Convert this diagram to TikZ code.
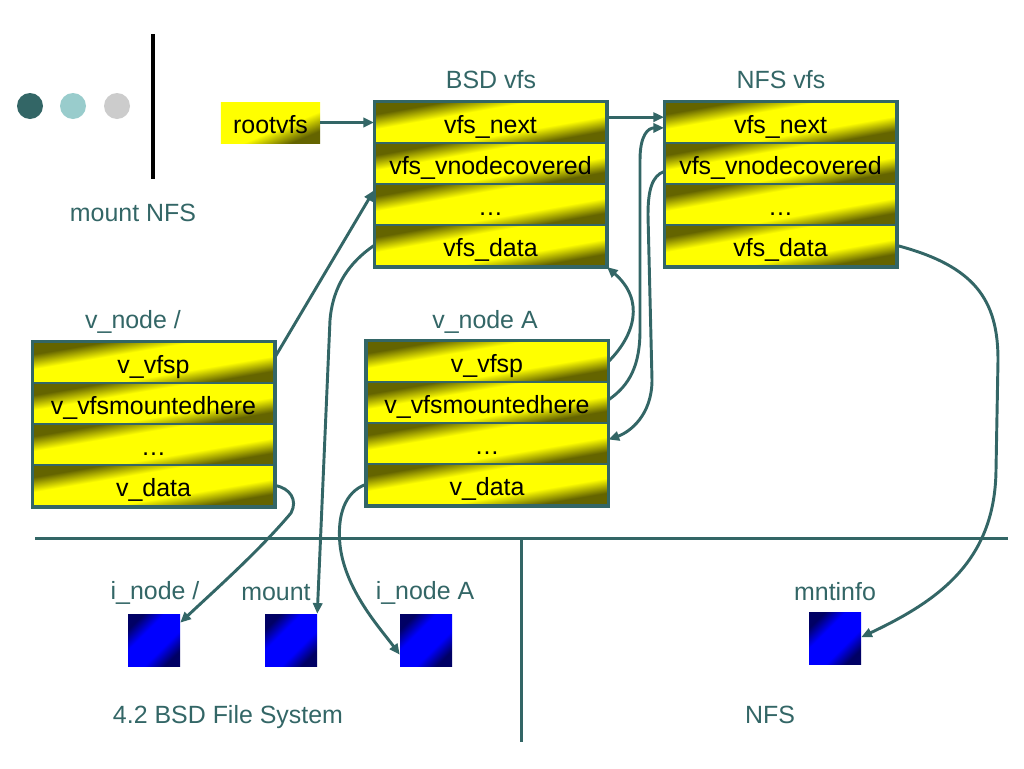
\documentclass[tikz,border=0pt]{standalone}
\usepackage{fontspec}
\setmainfont{Liberation Sans}
\usetikzlibrary{arrows.meta}
\definecolor{tl}{RGB}{51,102,102}
\definecolor{olv}{RGB}{100,100,0}
\definecolor{ylw}{RGB}{255,255,0}
\definecolor{nvy}{RGB}{0,0,100}
\definecolor{blu}{RGB}{0,0,255}
\definecolor{ltl}{RGB}{153,204,204}
\definecolor{gry}{RGB}{204,204,204}
\pgfdeclareverticalshading{fieldsh}{100bp}{color(0bp)=(olv); color(25bp)=(olv); color(38bp)=(ylw); color(62bp)=(ylw); color(75bp)=(olv); color(100bp)=(olv)}
\pgfdeclareverticalshading{rootsh}{100bp}{color(0bp)=(olv); color(25bp)=(olv); color(42bp)=(ylw); color(100bp)=(ylw)}
\pgfdeclareverticalshading{sqsh}{100bp}{color(0bp)=(nvy); color(25bp)=(nvy); color(39bp)=(blu); color(61bp)=(blu); color(75bp)=(nvy); color(100bp)=(nvy)}
\newcommand{\fsz}{\fontsize{18.7}{22}\selectfont}
% shaded background: centre x, centre y, x-stretch, half height, shading
\newcommand{\shbox}[5]{\begin{scope}[transform canvas={shift={(#1,#2)},xscale=#3}]\shade[shading=#5, shading angle=45] (-#4,-#4) rectangle (#4,#4);\end{scope}}
\begin{document}
\begin{tikzpicture}[x=0.75pt,y=-0.75pt,
 field/.style={draw=tl, line width=1.5pt, minimum height=30.75pt, inner sep=0pt, text height=16pt, text depth=0.2pt, font=\fsz, text=black},
 bsdw/.style={field, minimum width=173.25pt},
 vnw/.style={field, minimum width=180.75pt},
 boxframe/.style={draw=tl, line width=2.25pt},
 lbl/.style={font=\fsz, text=tl, inner sep=0pt},
 sq/.style={minimum width=39pt, minimum height=39pt, inner sep=0pt},
 arr/.style={draw=tl, line width=2.2pt, -{Triangle[length=8pt,width=7pt]}},
 sepline/.style={draw=tl, line width=2.25pt}]
\useasboundingbox (0,0) rectangle (1024,768);

% decorations
\fill[tl] (30,106) circle[radius=13];
\fill[ltl] (73,106) circle[radius=13];
\fill[gry] (117,106) circle[radius=13];
\draw[black, line width=3pt] (153,34) -- (153,179);
\node[lbl] (title) at (133,213) {mount NFS};

% shaded backgrounds
\shbox{270.5}{122.5}{2.415}{20.5}{rootsh}
\foreach \y in {122.5,163.5,204.5,245.5} {
  \shbox{490.5}{\y}{5.634}{20.5}{fieldsh}
  \shbox{780.5}{\y}{5.634}{20.5}{fieldsh}
}
\foreach \y in {362.5,403.5,444.5,485.5} {\shbox{153.5}{\y}{5.878}{20.5}{fieldsh}}
\foreach \y in {361.5,402.5,443.5,484.5} {\shbox{487}{\y}{5.878}{20.5}{fieldsh}}
\shbox{154}{640}{1}{26}{sqsh}
\shbox{291}{640}{1}{26}{sqsh}
\shbox{426}{640}{1}{26}{sqsh}
\shbox{835}{638.5}{1}{26}{sqsh}

% rootvfs
\node[font=\fsz, text=black, inner sep=0pt, minimum width=74.25pt, minimum height=30.75pt, text height=16pt, text depth=0.2pt] (root) at (270.5,122.5) {rootvfs};

% BSD vfs
\node[lbl] (bsdt) at (491,80) {BSD vfs};
\node[bsdw] (b1) at (490.5,122.5) {vfs\_next};
\node[bsdw] (b2) at (490.5,163.5) {vfs\_vnodecovered};
\node[bsdw] (b3) at (490.5,204.5) {…};
\node[bsdw] (b4) at (490.5,245.5) {vfs\_data};
\draw[boxframe] (b1.north west) rectangle (b4.south east);

% NFS vfs
\node[lbl] (nfst) at (781,80) {NFS vfs};
\node[bsdw] (n1) at (780.5,122.5) {vfs\_next};
\node[bsdw] (n2) at (780.5,163.5) {vfs\_vnodecovered};
\node[bsdw] (n3) at (780.5,204.5) {…};
\node[bsdw] (n4) at (780.5,245.5) {vfs\_data};
\draw[boxframe] (n1.north west) rectangle (n4.south east);

% v_node /
\node[lbl] (vt) at (133,322) {v\_node /};
\node[vnw] (v1) at (153.5,362.5) {v\_vfsp};
\node[vnw] (v2) at (153.5,403.5) {v\_vfsmountedhere};
\node[vnw] (v3) at (153.5,444.5) {…};
\node[vnw] (v4) at (153.5,485.5) {v\_data};
\draw[boxframe] (v1.north west) rectangle (v4.south east);

% v_node A
\node[lbl] (at) at (485,322) {v\_node A};
\node[vnw] (a1) at (487,361.5) {v\_vfsp};
\node[vnw] (a2) at (487,402.5) {v\_vfsmountedhere};
\node[vnw] (a3) at (487,443.5) {…};
\node[vnw] (a4) at (487,484.5) {v\_data};
\draw[boxframe] (a1.north west) rectangle (a4.south east);

% separators
\draw[sepline] (35,538) -- (1008,538);
\draw[sepline] (521,538) -- (521,742);

% bottom squares
\node[lbl] (i1t) at (155,593) {i\_node /};
\node[lbl] (mt) at (276,593) {mount};
\node[lbl] (iAt) at (425,593) {i\_node A};
\node[lbl] (mit) at (835,592) {mntinfo};
\node[sq] (i1) at (154,640) {};
\node[sq] (mnt) at (291,640) {};
\node[sq] (iA) at (426,640) {};
\node[sq] (mi) at (835,638.5) {};
\node[lbl] (bsdfs) at (228,717) {4.2 BSD File System};
\node[lbl] (nfsl) at (770,715) {NFS};

% connectors
\draw[arr] (root.east) -- (b1.west);
\draw[arr] ([yshift=4pt]b1.east) -- ([yshift=4pt]n1.west);
\draw[arr] ([yshift=2pt]a2.east) .. controls (630,385) and (640,365) .. (640,330) -- (640,160) .. controls (640,135) and (648,128) .. ([yshift=-4pt]n1.west);
\draw[arr] (a1.east) .. controls (635,335) and (645,300) .. (b4.south east);
\draw[arr] ([yshift=-6pt]n2.west) .. controls (652,176) and (648,190) .. (648,215) -- (652,380) .. controls (652,415) and (630,432) .. ([yshift=3pt]a3.east);
\draw[arr] ([yshift=4pt]v1.east) -- ([yshift=-4pt]b2.south west);
\draw[arr] (b4.west) .. controls (350,262) and (333,285) .. (330,320) -- (mnt.north east);
\draw[arr] (v4.east) .. controls (290,488) and (298,500) .. (291,513) .. controls (260,550) and (215,590) .. ([yshift=13pt]i1.east);
\draw[arr] (a4.west) .. controls (345,492) and (337,515) .. (340,545) .. controls (345,590) and (380,628) .. ([yshift=-11pt]iA.west);
\draw[arr] (n4.east) .. controls (975,266) and (998,300) .. (998,360) -- (996,470) .. controls (995,560) and (940,600) .. ([yshift=1pt]mi.east);
\end{tikzpicture}
\end{document}
